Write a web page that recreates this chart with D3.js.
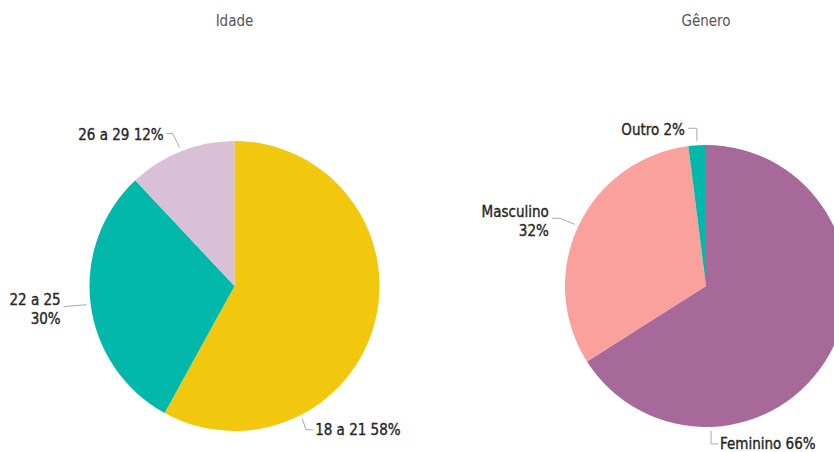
<!DOCTYPE html>
<html>
  <head>
    <meta charset="utf-8">
    <title>Idade e Gênero</title>
    <script src="https://d3js.org/d3.v7.min.js"></script>
    <style>
      body { margin: 0; background: white; }
      svg { display: block; font-family: "DejaVu Sans Condensed", "DejaVu Sans", sans-serif; }
      .title { font-size: 15px; fill: #555; text-anchor: middle; }
      .label { font-size: 15px; fill: #262626; stroke: #262626; stroke-width: 0.35px; }
      .leader { fill: none; stroke: #a8a8a8; stroke-width: 1; }
    </style>
  </head>
  <body>
    <svg id="chart" width="834" height="452"></svg>
    <script>
      // data
      idadeCats = ["18 a 21", "22 a 25", "26 a 29"];
      idadeVals = [58, 30, 12];
      idadeColors = ["#F2C80F", "#01B8AA", "#D9C0D6"];
      generoCats = ["Feminino", "Masculino", "Outro"];
      generoVals = [66, 32, 2];
      generoColors = ["#A66999", "#FBA19D", "#01B8AA"];

      svg = d3.select("#chart");

      // label layout: angle on rim (deg, null = mid), elbow offsets, text side, split lines
      idadeLayout = [
        { angle: 153, pts: [[4, 11], [11, 11]], side: "start", split: false, dy: 0 },
        { angle: null, pts: [[-23, 2]], side: "end", split: true, dy: 2 },
        { angle: null, pts: [[-7, -14], [-13, -14]], side: "end", split: false, dy: 2 }
      ];
      generoLayout = [
        { angle: 178, pts: [[0, 13], [7, 13]], side: "start", split: false, dy: 0 },
        { angle: null, pts: [[-15, -6], [-23, -6]], side: "end", split: true, dy: 3 },
        { angle: null, pts: [[0, -13], [-9, -13]], side: "end", split: false, dy: 2 }
      ];

      function drawPie(cx, cy, r, title, cats, vals, colors, layout) {
        var g = svg.append("g").attr("transform", "translate(" + cx + "," + cy + ")");
        svg.append("text").attr("class", "title")
          .attr("x", cx).attr("y", 26).text(title);
        var pie = d3.pie().sort(null).value(function(d) { return d; });
        var arcs = pie(vals);
        var arc = d3.arc().innerRadius(0).outerRadius(r);
        var color = d3.scaleOrdinal().domain(cats).range(colors);
        g.selectAll(".slice")
            .data(arcs)
          .enter().append("path")
            .attr("class", "slice")
            .attr("d", arc)
            .attr("fill", function(d, i) { return color(cats[i]); });
        // labels
        arcs.forEach(function(d, i) {
          var lay = layout[i];
          var a = lay.angle === null ? (d.startAngle + d.endAngle) / 2 : lay.angle * Math.PI / 180;
          var rr = r + 4;
          var p0 = [Math.sin(a) * rr, -Math.cos(a) * rr];
          var pts = [p0].concat(lay.pts.map(function(p) { return [p0[0] + p[0], p0[1] + p[1]]; }));
          g.append("path").attr("class", "leader")
            .attr("d", d3.line()(pts));
          var end = pts[pts.length - 1];
          var tx = lay.side === "start" ? end[0] + 2 : end[0] - 3;
          var txt = g.append("text").attr("class", "label")
            .attr("text-anchor", lay.side);
          var pct = vals[i] + "%";
          if (lay.split) {
            txt.append("tspan").attr("x", tx).attr("y", end[1] - 4 + lay.dy).text(cats[i]);
            txt.append("tspan").attr("x", tx).attr("y", end[1] + 15 + lay.dy).text(pct);
          } else {
            txt.attr("x", tx).attr("y", end[1] + 5 + (lay.dy || 0)).text(cats[i] + " " + pct);
          }
        });
      }

      drawPie(234.5, 286, 145, "Idade", idadeCats, idadeVals, idadeColors, idadeLayout);
      drawPie(706, 286, 141, "Gênero", generoCats, generoVals, generoColors, generoLayout);
    </script>
  </body>
</html>
